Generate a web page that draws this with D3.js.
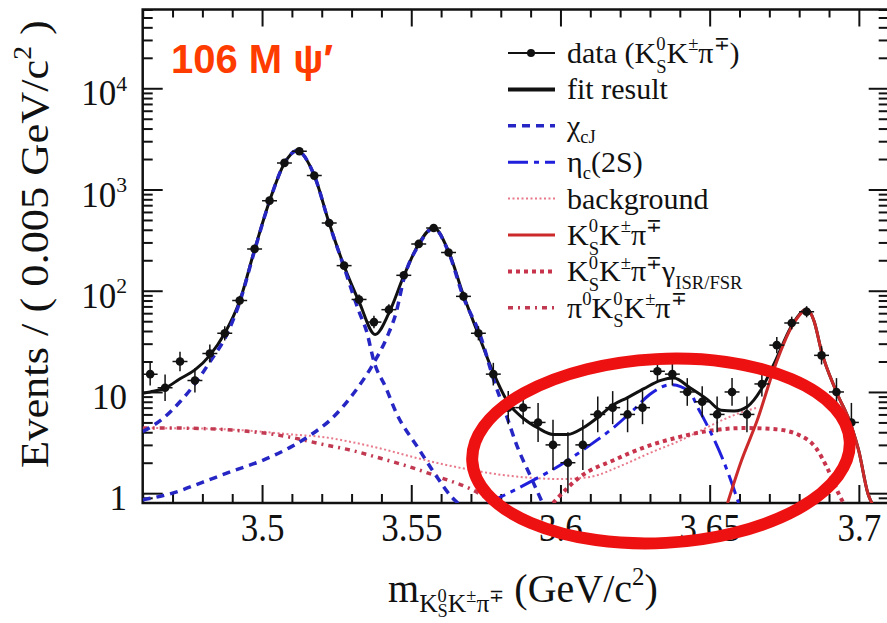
<!DOCTYPE html>
<html>
<head>
<meta charset="utf-8">
<script src="https://cdn.jsdelivr.net/npm/d3@7"></script>
<style>
  body { margin: 0; background: #fff; }
  svg text { font-family: "Liberation Serif", "Times New Roman", serif; fill: #111; }
</style>
</head>
<body>
<script>
// ---- data ----
const binMass = [3.4625, 3.4675, 3.4725, 3.4775, 3.4825, 3.4875, 3.4925, 3.4975, 3.5025, 3.5075,
  3.5125, 3.5175, 3.5225, 3.5275, 3.5325, 3.5375, 3.5425, 3.5475, 3.5525, 3.5575,
  3.5625, 3.5675, 3.5725, 3.5775, 3.5825, 3.5875, 3.5925, 3.5975, 3.6025, 3.6075,
  3.6125, 3.6175, 3.6225, 3.6275, 3.6325, 3.6375, 3.6425, 3.6475, 3.6525, 3.6575,
  3.6625, 3.6675, 3.6725, 3.6775, 3.6825, 3.6875, 3.6925, 3.6975];
const binCounts = [15, 11, 20, 13, 24, 38, 80, 259, 776, 1832,
  2389, 1372, 467, 177, 82, 49, 65, 142, 290, 417,
  239, 88, 38, 15, 7, 7, 5, 3, 2, 3,
  6, 7, 6, 7, 16, 15, 10, 8, 6, 10,
  6, 12, 29, 48, 62, 23, 10, 5];

const fitMass = [3.46, 3.4625, 3.4675, 3.4725, 3.4775, 3.4825, 3.4875, 3.4925, 3.4975, 3.5025,
  3.5075, 3.5117, 3.5175, 3.5225, 3.5275, 3.5325, 3.5379, 3.5425, 3.5475, 3.5525,
  3.5575, 3.5625, 3.5675, 3.5725, 3.5775, 3.5825, 3.5875, 3.5925, 3.5975, 3.6025,
  3.6075, 3.6125, 3.6175, 3.6225, 3.628, 3.6336, 3.638, 3.6434, 3.6493, 3.6538,
  3.6582, 3.6627, 3.6672, 3.6716, 3.6773, 3.68, 3.6825, 3.685, 3.6875, 3.6925,
  3.6975, 3.70, 3.703, 3.7045];
const fitVals = [9.7, 10.0, 10.9, 13.5, 16.5, 23, 38, 79, 255, 770,
  1820, 2420, 1380, 465, 175, 78, 37, 60, 140, 290,
  420, 245, 90, 37, 15.5, 7.8, 5.5, 4.4, 3.8, 3.8,
  4.4, 5.6, 7.4, 8.8, 10.8, 13.0, 13.7, 11.0, 8.4, 6.6,
  6.5, 7.2, 10.5, 19, 44, 58, 66, 50, 25, 10,
  4.6, 2.6, 1.0, 0.78];

const chic1Mass = [3.46, 3.4669, 3.4725, 3.4781, 3.4826, 3.4882, 3.4927, 3.4975, 3.5025, 3.5075,
  3.5117, 3.5175, 3.5225, 3.5275, 3.5325, 3.535, 3.5375, 3.5415, 3.545, 3.5523,
  3.5585, 3.5635, 3.566];
const chic1Vals = [4.06, 5.5, 8.0, 12.7, 20, 37, 80, 250, 765, 1815,
  2415, 1375, 460, 170, 62, 40, 20, 11, 6.2, 2.8,
  1.46, 0.92, 0.78];

const chic2Mass = [3.46, 3.47, 3.48, 3.49, 3.50, 3.51, 3.5165, 3.5229, 3.5307, 3.5374,
  3.5419, 3.545, 3.5475, 3.5525, 3.5575, 3.5625, 3.5675, 3.5733, 3.5777, 3.5816,
  3.5855, 3.59, 3.594];
const chic2Vals = [0.86, 1.0, 1.28, 1.65, 2.1, 2.9, 3.8, 5.3, 9.7, 19.3,
  35, 62, 130, 282, 415, 240, 86, 35, 13, 6.2,
  2.9, 1.46, 0.8];

const etac2sMass = [3.5754, 3.58, 3.59, 3.60, 3.61, 3.618, 3.6246, 3.63, 3.637, 3.643,
  3.6465, 3.6493, 3.6543, 3.6582, 3.6597];
const etac2sVals = [0.8, 0.92, 1.3, 1.9, 3.0, 4.5, 6.7, 9.5, 11.8, 10.2,
  6.6, 4.6, 2.2, 1.08, 0.8];

const bkgMass = [3.46, 3.48, 3.50, 3.51, 3.52, 3.53, 3.54, 3.55, 3.56, 3.57,
  3.58, 3.59, 3.60, 3.61, 3.62, 3.63, 3.64, 3.65, 3.655, 3.66, 3.666];
const bkgVals = [4.4, 4.35, 4.05, 3.8, 3.6, 3.2, 2.75, 2.3, 1.95, 1.7,
  1.52, 1.42, 1.38, 1.45, 1.85, 2.5, 3.3, 4.6, 5.4, 6.2, 7.0];

const kskpiMass = [3.656, 3.6604, 3.666, 3.6716, 3.6773, 3.68, 3.6825, 3.685, 3.6875, 3.6925,
  3.6975, 3.70, 3.703, 3.7045];
const kskpiVals = [0.8, 2.0, 5.3, 17, 43, 57, 66, 50, 25, 10,
  4.6, 2.6, 1.0, 0.78];

const isrMass = [3.5975, 3.6067, 3.618, 3.629, 3.64, 3.6515, 3.662, 3.6715, 3.68, 3.6856,
  3.6895, 3.6935, 3.695];
const isrVals = [0.8, 1.46, 2.13, 2.9, 3.6, 4.2, 4.4, 4.3, 3.75, 2.8,
  1.75, 0.95, 0.78];

const pi0Mass = [3.46, 3.47, 3.48, 3.49, 3.50, 3.51, 3.52, 3.53, 3.54, 3.55,
  3.56, 3.57, 3.576, 3.58];
const pi0Vals = [4.4, 4.4, 4.35, 4.2, 3.95, 3.55, 3.05, 2.65, 2.2, 1.8,
  1.42, 1.1, 0.88, 0.78];

const xMajor = [3.5, 3.55, 3.6, 3.65, 3.7];
const yMajor = [1, 10, 100, 1000, 10000];
const binWidth = 0.005;

// ---- layout ----
const width = 887, height = 623;
const plotL = 142.7, plotR = 888.7, plotT = 9.5, plotB = 503;

const svg = d3.select("body").append("svg")
  .attr("width", width).attr("height", height);

const x = d3.scaleLinear().domain([3.46, 3.71]).range([plotL, plotR]);
const y = d3.scaleLog().domain([0.8, 6e4]).range([plotB, plotT]);

svg.append("clipPath").attr("id", "plot")
  .append("rect").attr("x", plotL).attr("y", plotT)
  .attr("width", plotR - plotL).attr("height", plotB - plotT);

// minor tick positions
const xMinor = d3.range(3.46, 3.711, 0.01).map(d => +d.toFixed(2))
  .filter(d => !xMajor.some(m => Math.abs(m - d) < 1e-6));
const yMinor = [];
[-1, 0, 1, 2, 3, 4].forEach(e => {
  for (let k = 2; k <= 9; k++) {
    const v = k * Math.pow(10, e);
    if (v >= 0.85 && v <= 6e4) yMinor.push(v);
  }
});

function styleAxis(g) {
  g.select(".domain").remove();
  g.selectAll(".tick line").attr("stroke", "#111").attr("stroke-width", 2);
}

// bottom axis
svg.append("g").attr("transform", `translate(0,${plotB})`)
  .call(d3.axisBottom(x).tickValues(xMinor).tickSize(-9).tickFormat(""))
  .call(styleAxis);
const xAxis = svg.append("g").attr("transform", `translate(0,${plotB})`)
  .call(d3.axisBottom(x).tickValues(xMajor).tickSize(-18).tickPadding(12)
    .tickFormat(d => String(+d.toFixed(2))))
  .call(styleAxis);
xAxis.selectAll(".tick text")
  .attr("font-family", "Liberation Serif")
  .attr("font-size", 35)
  .attr("fill", "#111")
  .attr("transform", "translate(0,-4) scale(1,1.15)");

// top axis
svg.append("g").attr("transform", `translate(0,${plotT})`)
  .call(d3.axisTop(x).tickValues(xMinor).tickSize(-8).tickFormat(""))
  .call(styleAxis);
svg.append("g").attr("transform", `translate(0,${plotT})`)
  .call(d3.axisTop(x).tickValues(xMajor).tickSize(-17).tickFormat(""))
  .call(styleAxis);

// left / right axes
svg.append("g").attr("transform", `translate(${plotL},0)`)
  .call(d3.axisLeft(y).tickValues(yMinor).tickSize(-10).tickFormat(""))
  .call(styleAxis);
svg.append("g").attr("transform", `translate(${plotL},0)`)
  .call(d3.axisLeft(y).tickValues(yMajor).tickSize(-20).tickFormat(""))
  .call(styleAxis);
svg.append("g").attr("transform", `translate(${plotR},0)`)
  .call(d3.axisRight(y).tickValues(yMinor).tickSize(-10).tickFormat(""))
  .call(styleAxis);
svg.append("g").attr("transform", `translate(${plotR},0)`)
  .call(d3.axisRight(y).tickValues(yMajor).tickSize(-20).tickFormat(""))
  .call(styleAxis);

// frame
svg.append("rect")
  .attr("x", plotL).attr("y", plotT)
  .attr("width", plotR - plotL).attr("height", plotB - plotT)
  .attr("fill", "none").attr("stroke", "#111").attr("stroke-width", 2.5);

// rich text helper: parts = [text, kind]
const kinds = {
  n: { s: 1, o: 0 },
  sup: { s: 0.62, o: -0.42 },
  sub: { s: 0.62, o: 0.24 },
  ssub: { s: 0.62, o: 0.32, stack: true },
  sn: { s: 0.64, o: 0.24 },
  ssup: { s: 0.46, o: 0.0 },
  sssub: { s: 0.46, o: 0.38, stack: true }
};
function rich(text, parts, F) {
  let off = 0, lastW = 0;
  parts.forEach(([t, k]) => {
    const kd = kinds[k];
    const target = kd.o * F;
    const ts = text.append("tspan")
      .attr("font-size", kd.s * F)
      .attr("dy", target - off)
      .text(t);
    if (kd.stack) ts.attr("dx", -lastW);
    off = target;
    lastW = ts.node().getComputedTextLength();
  });
}

// y tick labels
yMajor.forEach(v => {
  const t = svg.append("text")
    .attr("x", 127).attr("y", y(v) + 17)
    .attr("text-anchor", "end")
    .attr("font-size", 35);
  if (v === 1) rich(t, [["1", "n"]], 35);
  else if (v === 10) rich(t, [["10", "n"]], 35);
  else rich(t, [["10", "n"], [String(Math.log10(v)), "sup"]], 35);
});

// axis titles
const yTitle = svg.append("text")
  .attr("text-anchor", "middle")
  .attr("font-size", 40);
rich(yTitle, [["Events / ( 0.005 GeV/c", "n"], ["2", "sup"], [" )", "n"]], 40);
{
  const len = yTitle.node().getComputedTextLength();
  const k = 448 / len;
  yTitle.attr("transform", `translate(48,244) rotate(-90) scale(${k},1)`);
}

const xTitle = svg.append("text")
  .attr("x", 388).attr("y", 602)
  .attr("font-size", 40);
rich(xTitle, [["m", "n"], ["K", "sn"], ["0", "ssup"], ["S", "sssub"], ["K", "sn"], ["±", "ssup"],
  ["π", "sn"], ["∓", "ssup"], [" (GeV/c", "n"], ["2", "sup"], [")", "n"]], 40);

// curves
const line = d3.line()
  .x(d => x(d[0]))
  .y(d => y(d[1]))
  .curve(d3.curveMonotoneX);
const curves = svg.append("g").attr("clip-path", "url(#plot)");

function drawCurve(mass, vals, stroke, w, dash) {
  curves.append("path")
    .datum(d3.zip(mass, vals))
    .attr("d", line)
    .attr("fill", "none")
    .attr("stroke", stroke)
    .attr("stroke-width", w)
    .attr("stroke-dasharray", dash);
}

const styles = {
  fit: ["#111", 3, null],
  chic: ["#2626c4", 3.5, "8,6"],
  etac: ["#1f1fdc", 3, "20,6,5,6"],
  bkg: ["#e87a8c", 2, "2,2.5"],
  kskpi: ["#cc2a2a", 3, null],
  isr: ["#c8344c", 4, "4,4"],
  pi0: ["#c23a52", 3.5, "5,5,2,5"]
};

drawCurve(bkgMass, bkgVals, ...styles.bkg);
drawCurve(pi0Mass, pi0Vals, ...styles.pi0);
drawCurve(isrMass, isrVals, ...styles.isr);

// data points with error bars
const dataG = svg.append("g").attr("clip-path", "url(#plot)");
const pts = d3.zip(binMass, binCounts);
dataG.selectAll("line.ev").data(pts).enter().append("line")
  .attr("x1", d => x(d[0])).attr("x2", d => x(d[0]))
  .attr("y1", d => y(Math.max(0.5, d[1] + 0.5 - Math.sqrt(d[1] + 0.25))))
  .attr("y2", d => y(d[1] + 0.5 + Math.sqrt(d[1] + 0.25)))
  .attr("stroke", "#111").attr("stroke-width", 1.5);
dataG.selectAll("line.eh").data(pts).enter().append("line")
  .attr("x1", d => x(d[0] - binWidth / 2)).attr("x2", d => x(d[0] + binWidth / 2))
  .attr("y1", d => y(d[1])).attr("y2", d => y(d[1]))
  .attr("stroke", "#111").attr("stroke-width", 1.5);
dataG.selectAll("circle").data(pts).enter().append("circle")
  .attr("cx", d => x(d[0])).attr("cy", d => y(d[1]))
  .attr("r", 4.3).attr("fill", "#111");

drawCurve(fitMass, fitVals, ...styles.fit);
drawCurve(chic1Mass, chic1Vals, ...styles.chic);
drawCurve(chic2Mass, chic2Vals, ...styles.chic);
drawCurve(etac2sMass, etac2sVals, ...styles.etac);
drawCurve(kskpiMass, kskpiVals, ...styles.kskpi);

// legend
const legendLabels = [
  [["data (K", "n"], ["0", "sup"], ["S", "ssub"], ["K", "n"], ["±", "sup"], ["π", "n"], ["∓", "sup"], [")", "n"]],
  [["fit result", "n"]],
  [["χ", "n"], ["cJ", "sub"]],
  [["η", "n"], ["c", "sub"], ["(2S)", "n"]],
  [["background", "n"]],
  [["K", "n"], ["0", "sup"], ["S", "ssub"], ["K", "n"], ["±", "sup"], ["π", "n"], ["∓", "sup"]],
  [["K", "n"], ["0", "sup"], ["S", "ssub"], ["K", "n"], ["±", "sup"], ["π", "n"], ["∓", "sup"], ["γ", "n"], ["ISR/FSR", "sub"]],
  [["π", "n"], ["0", "sup"], ["K", "n"], ["0", "sup"], ["S", "ssub"], ["K", "n"], ["±", "sup"], ["π", "n"], ["∓", "sup"]]
];
const legendStyles = [
  ["#111", 2, null], [styles.fit[0], 4, null], styles.chic, styles.etac,
  styles.bkg, styles.kskpi, styles.isr, styles.pi0
];
const legend = svg.append("g");
legendLabels.forEach((parts, i) => {
  const ly = 53 + i * 36.4;
  const [stroke, w, dash] = legendStyles[i];
  legend.append("line")
    .attr("x1", 508).attr("x2", 555).attr("y1", ly).attr("y2", ly)
    .attr("stroke", stroke).attr("stroke-width", w).attr("stroke-dasharray", dash);
  if (i === 0) {
    legend.append("circle").attr("cx", 531).attr("cy", ly).attr("r", 4).attr("fill", "#111");
  }
  const t = legend.append("text").attr("x", 567).attr("y", ly + 10).attr("font-size", 30);
  rich(t, parts, 30);
});

// annotation
svg.append("text")
  .attr("x", 171).attr("y", 73)
  .attr("font-weight", "bold")
  .attr("font-size", 40)
  .style("font-family", "'Liberation Sans', Arial, sans-serif")
  .style("fill", "#ff3c00")
  .text("106 M ψ′");

svg.append("ellipse")
  .attr("cx", 661).attr("cy", 451)
  .attr("rx", 189).attr("ry", 92)
  .attr("transform", "rotate(-3,661,451)")
  .attr("fill", "none")
  .attr("stroke", "#ee1111")
  .attr("stroke-width", 12);
</script>
</body>
</html>
